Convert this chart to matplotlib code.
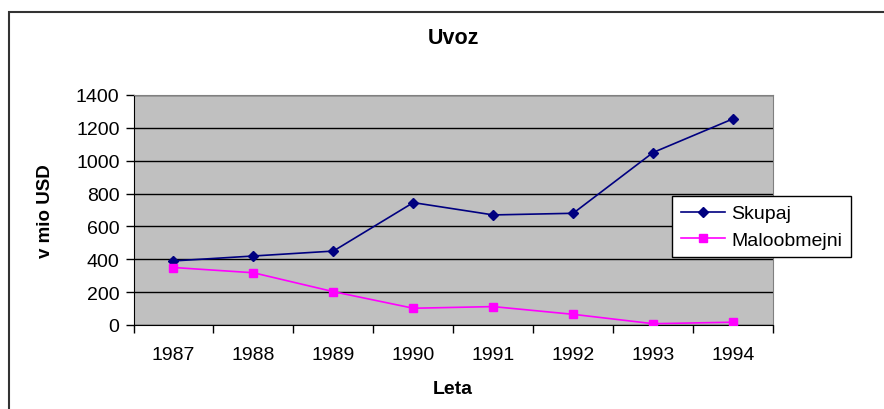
import matplotlib
matplotlib.use('Agg')
import matplotlib.pyplot as plt
import matplotlib.patches as mpatch

plt.rcParams['font.family'] = ['Liberation Sans', 'DejaVu Sans']

leta = ['1987', '1988', '1989', '1990', '1991', '1992', '1993', '1994']
skupaj = [390, 420, 450, 745, 670, 680, 1050, 1255]
maloobmejni = [350, 318, 203, 102, 112, 65, 8, 17]

fig = plt.figure(figsize=(8.84, 4.10), dpi=100)
fig.patch.set_facecolor('white')

# outer chart frame (only top and left visible)
frame = mpatch.Rectangle((8.5 / 884, -0.05), 1.0, 1 - 13 / 410 + 0.05,
                         transform=fig.transFigure, fill=False,
                         edgecolor='#333333', linewidth=1.5)
fig.add_artist(frame)

ax = fig.add_axes([133.5 / 884, 1 - 326 / 410, (773 - 133.5) / 884, (326 - 96) / 410])
ax.set_facecolor('#C0C0C0')

x = list(range(len(leta)))
ax.plot(x, skupaj, color='#000080', marker='D', markersize=5, linewidth=1.2,
        label='Skupaj', zorder=3)
ax.plot(x, maloobmejni, color='#FF00FF', marker='s', markersize=6, linewidth=1.2,
        label='Maloobmejni', zorder=3)

ax.set_xlim(-0.5, len(leta) - 0.5)
ax.set_ylim(0, 1400)
ax.set_yticks(range(0, 1401, 200))
ax.yaxis.grid(True, color='black', linewidth=1)
ax.set_axisbelow(True)

# category ticks between labels
ax.set_xticks([i - 0.5 for i in range(len(leta) + 1)])
ax.set_xticklabels([])
ax.set_xticks(x, minor=True)
ax.set_xticklabels(leta, minor=True)
ax.tick_params(axis='x', which='major', length=6, width=1, direction='out')
ax.tick_params(axis='x', which='minor', length=0, pad=15, labelsize=14)
ax.tick_params(axis='y', length=6, width=1, direction='out', labelsize=14, pad=4)

for side in ['top', 'right']:
    ax.spines[side].set_color('#808080')
for side in ['left', 'bottom']:
    ax.spines[side].set_color('black')

ax.set_ylabel('v mio USD', fontsize=13.5, fontweight='bold', labelpad=16)
ax.set_xlabel('Leta', fontsize=14, fontweight='bold', labelpad=12)
fig.text(453 / 884, 1 - 39 / 410, 'Uvoz', ha='center', va='center',
         fontsize=15.5, fontweight='bold')

leg = fig.legend(loc='upper left', bbox_to_anchor=(672 / 884, 1 - 197 / 410),
                 fontsize=14, frameon=True, fancybox=False, framealpha=1,
                 edgecolor='black', borderpad=0.45, labelspacing=0.45,
                 handlelength=2.3, handletextpad=0.3, borderaxespad=0)
leg.get_frame().set_linewidth(1)

fig.savefig('out.png', dpi=100)
